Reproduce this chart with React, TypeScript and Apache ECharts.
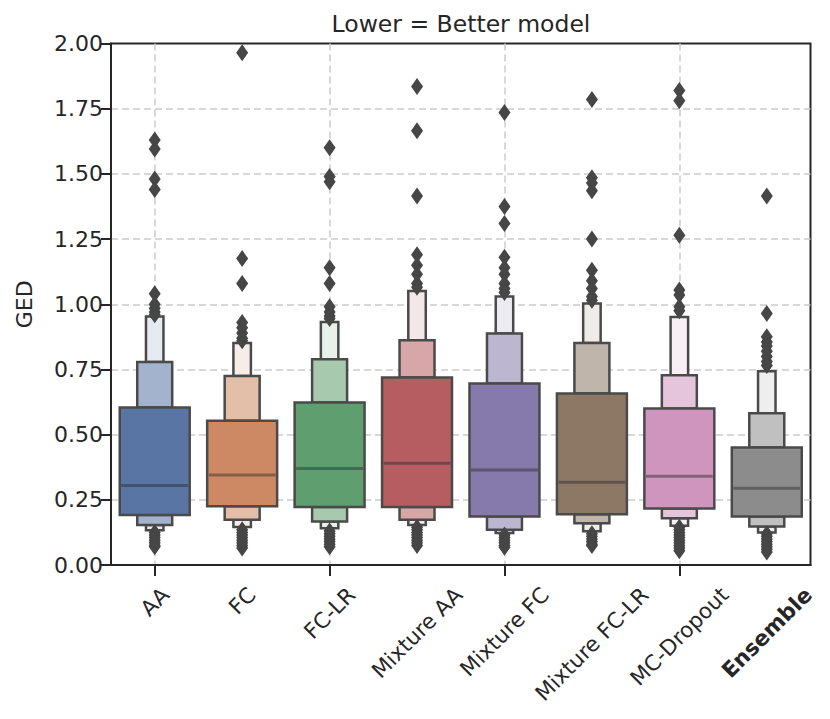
import React, { useEffect, useRef } from "react";
import * as echarts from "echarts";

const categories = ["AA", "FC", "FC-LR", "Mixture AA", "Mixture FC", "Mixture FC-LR", "MC-Dropout", "Ensemble"];
const boldCategories = ["Ensemble"];
const baseColors = ["#5975A4", "#CC8963", "#5F9E6E", "#B55D60", "#857AAB", "#8D7866", "#D095BF", "#8C8C8C"];

const medians = [0.305, 0.345, 0.37, 0.39, 0.364, 0.317, 0.34, 0.294];
const q1 = [0.192, 0.225, 0.222, 0.222, 0.186, 0.195, 0.217, 0.186];
const q3 = [0.604, 0.553, 0.623, 0.719, 0.696, 0.658, 0.6, 0.451];
const lv2Low = [0.153, 0.174, 0.167, 0.174, 0.135, 0.16, 0.179, 0.148];
const lv2High = [0.779, 0.725, 0.789, 0.862, 0.888, 0.851, 0.728, 0.582];
const lv3Low = [0.133, 0.146, 0.141, 0.153, 0.123, 0.129, 0.151, 0.125];
const lv3High = [0.953, 0.851, 0.932, 1.051, 1.03, 1.003, 0.951, 0.743];

const outliersAA = [1.63, 1.595, 1.48, 1.44, 1.04, 1.0, 0.985, 0.97, 0.96, 0.125, 0.115, 0.105, 0.095, 0.085, 0.075, 0.07];
const outliersFC = [1.965, 1.175, 1.08, 0.93, 0.91, 0.89, 0.87, 0.86, 0.135, 0.125, 0.115, 0.105, 0.095, 0.085, 0.075, 0.065];
const outliersFCLR = [1.6, 1.49, 1.47, 1.14, 1.08, 0.99, 0.97, 0.955, 0.945, 0.13, 0.12, 0.11, 0.1, 0.09, 0.08, 0.07];
const outliersMixAA = [1.835, 1.665, 1.415, 1.19, 1.15, 1.115, 1.08, 1.065, 0.145, 0.135, 0.125, 0.115, 0.105, 0.095, 0.085, 0.075];
const outliersMixFC = [1.735, 1.375, 1.31, 1.18, 1.14, 1.115, 1.08, 1.06, 1.045, 0.115, 0.105, 0.095, 0.085, 0.075, 0.068];
const outliersMixFCLR = [1.785, 1.485, 1.465, 1.435, 1.25, 1.13, 1.09, 1.06, 1.03, 1.015, 0.12, 0.11, 0.1, 0.09, 0.08, 0.075];
const outliersMCD = [1.82, 1.78, 1.265, 1.055, 1.035, 0.99, 0.975, 0.145, 0.135, 0.125, 0.115, 0.105, 0.095, 0.085, 0.075, 0.065, 0.055];
const outliersEns = [1.415, 0.965, 0.875, 0.855, 0.84, 0.82, 0.8, 0.78, 0.765, 0.12, 0.11, 0.1, 0.09, 0.08, 0.07, 0.06, 0.05];

const outlierLists = [outliersAA, outliersFC, outliersFCLR, outliersMixAA, outliersMixFC, outliersMixFCLR, outliersMCD, outliersEns];

const yTicks = [0, 0.25, 0.5, 0.75, 1.0, 1.25, 1.5, 1.75, 2.0];

const FONT = "DejaVu Sans";
const TEXT = "#262626";
const EDGE = "#4a4a4a";
const LABEL_SIZE = 21.5;
const levelWidths = [0.8, 0.4, 0.2];
const levelLighten = [0, 0.45, 0.85];

function mix(hex: string, t: number, target = 255): string {
  const r = parseInt(hex.slice(1, 3), 16);
  const g = parseInt(hex.slice(3, 5), 16);
  const b = parseInt(hex.slice(5, 7), 16);
  const f = (c: number) => Math.round(c + (target - c) * t);
  return `rgb(${f(r)},${f(g)},${f(b)})`;
}

export default function App() {
  const ref = useRef<HTMLDivElement>(null);
  useEffect(() => {
    document.body.style.margin = "0";
    if (!ref.current) return;
    const chart = echarts.init(ref.current, undefined, { renderer: "svg" });

    const boxData: number[][] = [];
    categories.forEach((_, i) => {
      boxData.push([i, lv2High[i], lv3High[i], 3]);
      boxData.push([i, lv3Low[i], lv2Low[i], 3]);
      boxData.push([i, q3[i], lv2High[i], 2]);
      boxData.push([i, lv2Low[i], q1[i], 2]);
      boxData.push([i, q1[i], q3[i], 1]);
    });
    const medianData = categories.map((_, i) => [i, medians[i]]);
    const outlierData: number[][] = [];
    outlierLists.forEach((list, i) => list.forEach((v) => outlierData.push([i, v])));

    const titleGraphic = {
      type: "text",
      x: 461,
      y: 24,
      style: {
        text: "Lower = Better model",
        fontFamily: FONT,
        fontSize: 23.5,
        fill: TEXT,
        textAlign: "center",
        textVerticalAlign: "middle",
      },
    };

    chart.setOption({
      animation: false,
      textStyle: { fontFamily: FONT, color: TEXT },
      graphic: [titleGraphic],
      grid: {
        left: 111,
        right: 19.5,
        top: 43.5,
        bottom: 154,
        show: true,
        borderColor: TEXT,
        borderWidth: 2,
        backgroundColor: "transparent",
      },
      xAxis: {
        type: "category",
        data: categories,
        axisLine: { lineStyle: { color: TEXT, width: 2 } },
        axisTick: { show: true, alignWithLabel: true, length: 11, lineStyle: { color: TEXT, width: 2 } },
        splitLine: { show: true, alignWithLabel: true, lineStyle: { color: "#cccccc", width: 1.5, type: [7, 4] } },
        axisLabel: { show: false },
      },
      yAxis: {
        type: "value",
        min: yTicks[0],
        max: yTicks[yTicks.length - 1],
        interval: 0.25,
        name: "GED",
        nameLocation: "middle",
        nameGap: 76,
        nameTextStyle: { fontSize: 22, fontFamily: FONT, color: TEXT },
        axisLine: { show: true, lineStyle: { color: TEXT, width: 2 } },
        axisTick: { show: true, length: 10, lineStyle: { color: TEXT, width: 2 } },
        splitLine: {
          show: true,
          showMinLine: false,
          showMaxLine: false,
          lineStyle: { color: "#cccccc", width: 1.5, type: [7, 4] },
        },
        axisLabel: {
          fontSize: 22,
          fontFamily: FONT,
          color: TEXT,
          margin: 8,
          formatter: (v: number) => v.toFixed(2),
        },
      },
      series: [
        {
          type: "custom",
          z: 2,
          data: boxData,
          encode: { x: 0, y: [1, 2] },
          renderItem: (params: any, api: any) => {
            const cat = api.value(0);
            const lo = api.value(1);
            const hi = api.value(2);
            const lvl = api.value(3);
            const band = api.size([1, 0])[0];
            const w = band * levelWidths[lvl - 1];
            const pLo = api.coord([cat, lo]);
            const pHi = api.coord([cat, hi]);
            return {
              type: "rect",
              shape: { x: pLo[0] - w / 2, y: pHi[1], width: w, height: pLo[1] - pHi[1] },
              style: {
                fill: mix(baseColors[cat], levelLighten[lvl - 1]),
                stroke: EDGE,
                lineWidth: 2.5,
              },
            };
          },
        },
        {
          type: "custom",
          z: 3,
          data: medianData,
          encode: { x: 0, y: 1 },
          renderItem: (params: any, api: any) => {
            const cat = api.value(0);
            const m = api.value(1);
            const band = api.size([1, 0])[0];
            const w = band * levelWidths[0];
            const p = api.coord([cat, m]);
            return {
              type: "line",
              shape: { x1: p[0] - w / 2 + 1.5, y1: p[1], x2: p[0] + w / 2 - 1.5, y2: p[1] },
              style: { stroke: mix(baseColors[cat], 0.45, 40), lineWidth: 3 },
            };
          },
        },
        {
          type: "scatter",
          z: 4,
          data: outlierData,
          symbol: "diamond",
          symbolSize: [12, 17],
          itemStyle: { color: "#464646", opacity: 1 },
        },
      ],
    });

    // Rotated category labels, centred on their ticks like matplotlib's ha="center"
    const canvas = document.createElement("canvas");
    const ctx = canvas.getContext("2d");
    const axisY = chart.convertToPixel({ yAxisIndex: 0 }, 0) as number;
    const labelGraphics = categories.map((c) => {
      const bold = boldCategories.includes(c);
      let w = c.length * LABEL_SIZE * 0.6;
      if (ctx) {
        ctx.font = `${bold ? "bold " : ""}${LABEL_SIZE}px "${FONT}"`;
        w = ctx.measureText(c).width;
      }
      const half = 0.3536 * (w + 0.73 * LABEL_SIZE);
      const x = chart.convertToPixel({ xAxisIndex: 0 }, c) as number;
      return {
        type: "text",
        x,
        y: axisY + 20.5 + half,
        rotation: Math.PI / 4,
        style: {
          text: c,
          fontFamily: FONT,
          fontSize: LABEL_SIZE,
          fontWeight: bold ? "bold" : "normal",
          fill: TEXT,
          textAlign: "center",
          textVerticalAlign: "middle",
        },
      };
    });
    chart.setOption({ graphic: [titleGraphic, ...labelGraphics] });

    return () => chart.dispose();
  }, []);
  return <div ref={ref} style={{ width: 830, height: 719 }} />;
}
